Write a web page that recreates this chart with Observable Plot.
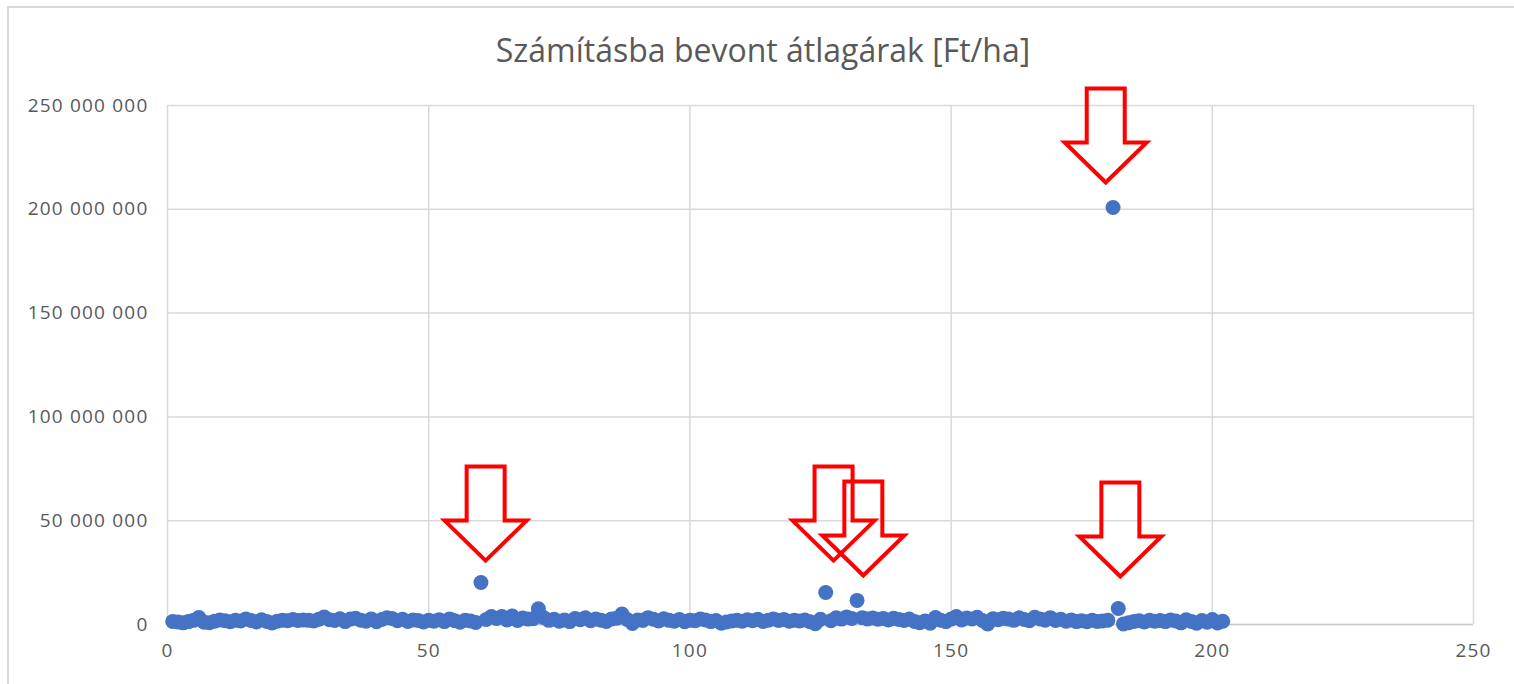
<!DOCTYPE html>
<html>
<head>
<meta charset="utf-8">
<script src="https://cdn.jsdelivr.net/npm/d3@7"></script>
<script src="https://cdn.jsdelivr.net/npm/@observablehq/plot@0.6"></script>
<style>
  html, body { margin: 0; padding: 0; background: #fff; overflow: hidden; }
  #wrap { position: relative; width: 1514px; height: 684px; }
  #frame { position: absolute; left: 7px; top: 6px; width: 1530px; height: 700px; border: 2px solid #d9d9d9; box-sizing: border-box; }
  #title { position: relative; height: 80px; line-height: normal; padding-top: 28px; box-sizing: border-box; text-align: center; font-family: "Open Sans", sans-serif; font-size: 32px; color: #595959; padding-left: 12px; white-space: nowrap; }
  #chart { position: relative; }
  #chart svg text { letter-spacing: 1.2px; }
</style>
</head>
<body>
<div id="wrap">
  <div id="frame"></div>
  <div id="title">Számításba bevont átlagárak [Ft/ha]</div>
  <div id="chart"></div>
</div>
<script>
// x index of each record (1..202)
const recordIndex = d3.range(1, 203);
// average prices, millions Ft/ha
const avgPriceM = [
  1.5, 1.2, 0.8, 1.4, 2.0, 3.4, 1.1, 0.9, 1.6, 2.2,
  1.8, 1.3, 2.0, 1.7, 2.6, 1.9, 1.2, 2.3, 1.5, 0.7,
  1.6, 2.1, 1.8, 2.4, 1.9, 2.2, 2.0, 1.7, 2.5, 3.6,
  2.3, 1.9, 2.8, 1.4, 2.6, 3.0, 2.1, 1.6, 2.7, 1.3,
  2.4, 3.2, 2.9, 1.8, 2.5, 1.5, 2.2, 1.9, 1.2, 2.0,
  1.6, 2.3, 1.4, 2.7, 1.8, 1.1, 2.1, 1.7, 1.0, 20.2,
  2.4, 3.8, 2.9, 3.9, 2.2, 4.1, 1.9, 3.1, 2.6, 2.8,
  7.6, 3.4, 2.0, 2.5, 1.6, 2.2, 1.4, 2.9, 2.3, 3.2,
  1.8, 2.6, 2.1, 1.5, 2.7, 3.0, 5.0, 2.4, 0.5, 2.2,
  1.9, 3.3, 2.5, 1.7, 2.8, 2.0, 1.6, 2.4, 1.3, 2.1,
  1.8, 2.6, 2.2, 1.4, 1.9, 0.6, 1.2, 1.7, 2.0, 1.6,
  2.3, 1.8, 2.5, 1.5, 2.1, 2.7, 1.9, 2.4, 1.6, 2.0,
  1.7, 2.2, 1.3, 0.4, 2.5, 15.4, 1.8, 3.2, 2.6, 3.6,
  2.9, 11.6, 3.3, 2.7, 3.1, 2.5, 2.9, 2.2, 3.0, 2.4,
  1.9, 2.6, 1.5, 0.9, 1.7, 0.6, 3.4, 2.1, 1.4, 2.6,
  3.8, 2.2, 3.1, 2.7, 3.5, 1.9, 0.3, 2.8, 2.3, 3.0,
  2.6, 2.0, 3.2, 2.4, 1.8, 3.5, 2.7, 2.1, 3.3, 1.9,
  2.5, 1.6, 2.2, 1.4, 1.8, 1.3, 2.0, 1.5, 1.7, 2.1,
  200.9, 7.7,
  0.3, 0.9, 1.5, 1.8, 1.2, 2.0, 1.6, 1.9, 1.4, 2.2,
  1.7, 0.8, 2.3, 1.5, 0.6, 1.9, 1.1, 2.4, 0.7, 1.6
];
// annotation arrows: tip location (index, millions Ft/ha)
const arrowTipX = [179.6, 60.9, 127.5, 133.2, 182.4];
const arrowTipY = [212.9, 30.8, 30.8, 23.6, 23.1];

const xTicks = [0, 50, 100, 150, 200, 250];
const yTicks = [0, 50e6, 100e6, 150e6, 200e6, 250e6];

const points = recordIndex.map((i, k) => ({x: i, y: avgPriceM[k] * 1e6}));
const arrows = arrowTipX.map((x, k) => ({x, y: arrowTipY[k] * 1e6}));

// hollow down-arrow symbol with its tip at the origin
const arrowSymbol = {
  draw(ctx) {
    const hs = 19, hh = 41, headH = 40, total = 94;
    ctx.moveTo(0, 0);
    ctx.lineTo(-hh, -headH);
    ctx.lineTo(-hs, -headH);
    ctx.lineTo(-hs, -total);
    ctx.lineTo(hs, -total);
    ctx.lineTo(hs, -headH);
    ctx.lineTo(hh, -headH);
    ctx.closePath();
  }
};

const fmt = d => d3.format(",")(d).replace(/,/g, " ");
const font = "'Open Sans', sans-serif";

const chart = Plot.plot({
  width: 1514,
  height: 604,
  marginTop: 25,
  marginLeft: 167,
  marginRight: 41,
  marginBottom: 60,
  style: {fontFamily: font, fontSize: "19px", color: "#595959", background: "transparent", overflow: "visible"},
  x: {domain: [0, 250], ticks: xTicks, label: null},
  y: {domain: [0, 250e6], ticks: yTicks, label: null, tickFormat: fmt},
  marks: [
    Plot.gridX(xTicks, {stroke: "#d9d9d9", strokeOpacity: 1, strokeWidth: 1.5}),
    Plot.gridY(yTicks, {stroke: "#d9d9d9", strokeOpacity: 1, strokeWidth: 1.5}),
    Plot.ruleY([0], {stroke: "#c8c8c8", strokeWidth: 1.5}),
    Plot.axisX(xTicks, {tickSize: 0, tickPadding: 19, fill: "#595959", fontSize: 19}),
    Plot.axisY(yTicks, {tickSize: 0, tickPadding: 19, fill: "#595959", fontSize: 19, tickFormat: fmt}),
    Plot.dot(points, {x: "x", y: "y", r: 7.5, fill: "#4472C4"}),
    Plot.dot(arrows, {x: "x", y: "y", r: 10, symbol: arrowSymbol, fill: "none", stroke: "#ff0000", strokeWidth: 4, strokeLinejoin: "miter"})
  ]
});
document.getElementById("chart").appendChild(chart);
</script>
</body>
</html>
